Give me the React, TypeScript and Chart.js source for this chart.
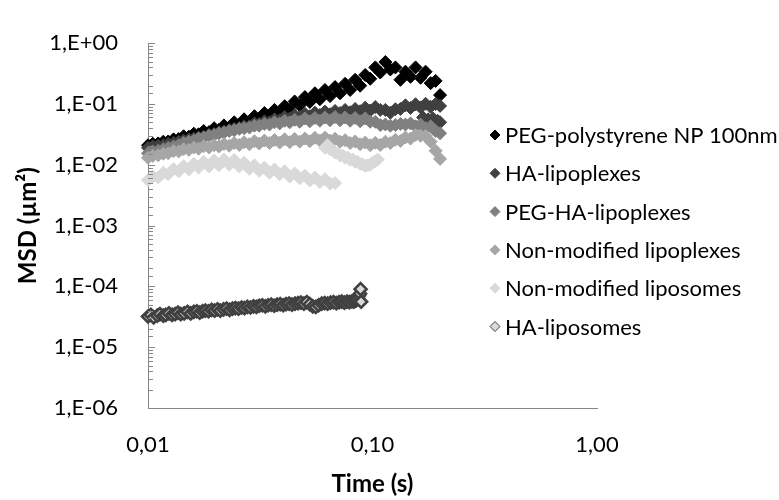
import { useEffect, useRef } from 'react';
import { Chart, registerables } from 'chart.js';

Chart.register(...registerables);

// ---------- data ----------
const SERIES_NAMES = [
  'PEG-polystyrene NP 100nm',
  'HA-lipoplexes',
  'PEG-HA-lipoplexes',
  'Non-modified lipoplexes',
  'Non-modified liposomes',
  'HA-liposomes',
];

// time lags (s) shared by the dense series
const T = [
  0.0100, 0.0105, 0.0111, 0.0117, 0.0123, 0.0130, 0.0137, 0.0144, 0.0152, 0.0160,
  0.0168, 0.0177, 0.0187, 0.0197, 0.0207, 0.0218, 0.0230, 0.0242, 0.0255, 0.0268,
  0.0283, 0.0298, 0.0313, 0.0330, 0.0348, 0.0366, 0.0386, 0.0406, 0.0428, 0.0450,
  0.0474, 0.0500, 0.0526, 0.0554, 0.0583, 0.0614, 0.0647, 0.0681, 0.0717, 0.0755,
  0.0795, 0.0837, 0.0881, 0.0928, 0.0977, 0.1029, 0.1083, 0.1141, 0.1201, 0.1265,
  0.1332, 0.1402, 0.1477, 0.1555, 0.1637, 0.1724, 0.1815, 0.1911, 0.2000,
];

const PEG_PS = [
  0.0210, 0.0222, 0.0225, 0.0240, 0.0242, 0.0262, 0.0265, 0.0295, 0.0290, 0.0325,
  0.0318, 0.0360, 0.0345, 0.0400, 0.0375, 0.0445, 0.0415, 0.0500, 0.0455, 0.0560,
  0.0505, 0.0630, 0.0560, 0.0710, 0.0625, 0.0800, 0.0700, 0.0920, 0.0800, 0.1100,
  0.0950, 0.1300, 0.1080, 0.1500, 0.1200, 0.1700, 0.1350, 0.1900, 0.1500, 0.2150,
  0.1700, 0.2500, 0.2000, 0.3000, 0.2600, 0.4000, 0.3300, 0.4900, 0.3700, 0.4000,
  0.2500, 0.3400, 0.2800, 0.4000, 0.2700, 0.3400, 0.2200, 0.2400, 0.1400,
];

const HA_LIPOPLEX = [
  0.019, 0.020, 0.0205, 0.021, 0.022, 0.023, 0.024, 0.025, 0.026, 0.027,
  0.028, 0.029, 0.031, 0.032, 0.034, 0.035, 0.037, 0.039, 0.040, 0.043,
  0.043, 0.048, 0.047, 0.052, 0.050, 0.056, 0.054, 0.061, 0.058, 0.065,
  0.061, 0.069, 0.063, 0.072, 0.066, 0.075, 0.068, 0.077, 0.071, 0.080,
  0.073, 0.083, 0.076, 0.087, 0.078, 0.089, 0.080, 0.080, 0.072, 0.082,
  0.083, 0.095, 0.086, 0.099, 0.088, 0.101, 0.090, 0.100, 0.093,
];
const HA_LIPOPLEX_TAIL_T = [0.1680, 0.1770, 0.1860, 0.1950, 0.2000];
const HA_LIPOPLEX_TAIL = [0.060, 0.056, 0.058, 0.053, 0.050];

const PEG_HA_LIPOPLEX = [
  0.0155, 0.0165, 0.017, 0.018, 0.019, 0.020, 0.021, 0.023, 0.024, 0.025,
  0.027, 0.028, 0.030, 0.031, 0.033, 0.034, 0.036, 0.037, 0.039, 0.040,
  0.041, 0.044, 0.044, 0.047, 0.046, 0.050, 0.048, 0.053, 0.050, 0.055,
  0.051, 0.058, 0.052, 0.059, 0.053, 0.060, 0.054, 0.061, 0.054, 0.060,
  0.053, 0.059, 0.052, 0.058, 0.051, 0.051, 0.045, 0.046, 0.044, 0.045,
  0.047, 0.046, 0.048, 0.043, 0.046, 0.040, 0.043, 0.036, 0.033,
];

const NONMOD_LIPOPLEX = [
  0.0130, 0.0140, 0.0143, 0.0152, 0.0155, 0.0168, 0.0166, 0.0180, 0.0176, 0.0192,
  0.0184, 0.0202, 0.0193, 0.0210, 0.0200, 0.0220, 0.0206, 0.0228, 0.0212, 0.0236,
  0.0218, 0.0244, 0.0224, 0.0250, 0.0228, 0.0256, 0.0232, 0.0262, 0.0236, 0.0266,
  0.0240, 0.0272, 0.0244, 0.0278, 0.0250, 0.0280, 0.0250, 0.0268, 0.0240, 0.0254,
  0.0228, 0.0242, 0.0218, 0.0232, 0.0210, 0.0230, 0.0212, 0.0240, 0.0228, 0.0258,
  0.0246, 0.0282, 0.0270, 0.0310, 0.0300, 0.0300, 0.0240, 0.0170, 0.0125,
];

// non-modified liposomes: first measurement run (on T, up to 0.068 s)
const NONMOD_LIPOSOME_A = [
  0.0056, 0.0064, 0.0062, 0.0074, 0.0070, 0.0085, 0.0078, 0.0095, 0.0084, 0.0104,
  0.0090, 0.0112, 0.0094, 0.0118, 0.0098, 0.0122, 0.0100, 0.0120, 0.0094, 0.0108,
  0.0086, 0.0098, 0.0080, 0.0090, 0.0074, 0.0084, 0.0070, 0.0078, 0.0064, 0.0072,
  0.0060, 0.0066, 0.0055, 0.0062, 0.0052, 0.0058, 0.0049, 0.0050,
];
// second run
const NONMOD_LIPOSOME_B_T = [
  0.0614, 0.0630, 0.0647, 0.0664, 0.0681, 0.0699, 0.0717, 0.0736, 0.0755, 0.0775,
  0.0795, 0.0816, 0.0837, 0.0859, 0.0881, 0.0904, 0.0928, 0.0952, 0.0977, 0.1003,
  0.1029, 0.1055,
];
const NONMOD_LIPOSOME_B = [
  0.019, 0.021, 0.018, 0.0175, 0.016, 0.0155, 0.0142, 0.0142, 0.0130, 0.0132,
  0.0120, 0.0122, 0.0112, 0.0112, 0.0104, 0.0102, 0.0096, 0.0098, 0.0100, 0.0110,
  0.0114, 0.0122,
];

const HA_LIPOSOME_T = [
  0.0100, 0.0103, 0.0106, 0.0110, 0.0113, 0.0117, 0.0120, 0.0124, 0.0128, 0.0132,
  0.0136, 0.0140, 0.0145, 0.0150, 0.0155, 0.0160, 0.0165, 0.0170, 0.0175, 0.0180,
  0.0186, 0.0192, 0.0198, 0.0204, 0.0210, 0.0217, 0.0224, 0.0231, 0.0238, 0.0245,
  0.0253, 0.0261, 0.0269, 0.0277, 0.0286, 0.0295, 0.0304, 0.0313, 0.0323, 0.0333,
  0.0343, 0.0354, 0.0365, 0.0376, 0.0388, 0.0400, 0.0412, 0.0425, 0.0438, 0.0452,
  0.0466, 0.0480, 0.0495, 0.0510, 0.0526, 0.0542, 0.0559, 0.0576, 0.0594, 0.0612,
  0.0631, 0.0650, 0.0670, 0.0690, 0.0710, 0.0730, 0.0750, 0.0770, 0.0790, 0.0810,
  0.0825, 0.0840, 0.0850, 0.0860, 0.0870, 0.0880, 0.0885, 0.0890,
];
const HA_LIPOSOME = [
  3.2e-5, 3.4e-5, 3.1e-5, 3.3e-5, 3.5e-5, 3.3e-5, 3.4e-5, 3.6e-5, 3.4e-5, 3.5e-5,
  3.7e-5, 3.5e-5, 3.6e-5, 3.8e-5, 3.6e-5, 3.8e-5, 3.9e-5, 3.7e-5, 3.9e-5, 4.0e-5,
  3.9e-5, 4.1e-5, 4.0e-5, 4.2e-5, 4.0e-5, 4.2e-5, 4.3e-5, 4.1e-5, 4.3e-5, 4.4e-5,
  4.3e-5, 4.5e-5, 4.4e-5, 4.6e-5, 4.5e-5, 4.7e-5, 4.6e-5, 4.8e-5, 4.9e-5, 4.7e-5,
  4.9e-5, 5.0e-5, 4.8e-5, 5.0e-5, 5.1e-5, 4.9e-5, 5.1e-5, 5.2e-5, 5.0e-5, 5.2e-5,
  5.3e-5, 5.4e-5, 5.2e-5, 5.5e-5, 5.1e-5, 4.7e-5, 4.6e-5, 4.9e-5, 5.2e-5, 5.3e-5,
  5.2e-5, 5.4e-5, 5.5e-5, 5.3e-5, 5.5e-5, 5.6e-5, 5.4e-5, 5.6e-5, 5.5e-5, 5.7e-5,
  5.6e-5, 5.8e-5, 6.0e-5, 6.4e-5, 7.0e-5, 7.6e-5, 9.0e-5, 5.6e-5,
];

const X_MIN = 0.01;
const X_MAX = 1;
const Y_MIN = 1e-6;
const Y_MAX = 1;

// ---------- helpers ----------
const FONT = 'Lato, "Open Sans", sans-serif';
const AXIS_COLOR = '#868686';

const pairs = (xs: number[], ys: number[]) => ys.map((y, i) => ({ x: xs[i], y }));
const isPow10 = (v: number) => Math.abs(Math.log10(v) - Math.round(Math.log10(v))) < 1e-9;
const fmtY = (v: number) => {
  const e = Math.round(Math.log10(v));
  const s = e >= 0 ? '+' : '-';
  const a = Math.abs(e);
  return '1,E' + s + (a < 10 ? '0' : '') + a;
};
const fmtX = (v: number) => v.toFixed(2).replace('.', ',');

export default function App() {
  const ref = useRef<HTMLCanvasElement | null>(null);

  useEffect(() => {
    if (!ref.current) return;

    const styles = [
      { bg: '#000000', bd: '#000000', bw: 1, r: 6.5 },
      { bg: '#404040', bd: '#404040', bw: 1, r: 6.5 },
      { bg: '#808080', bd: '#808080', bw: 1, r: 6.5 },
      { bg: '#a6a6a6', bd: '#a6a6a6', bw: 1, r: 6.5 },
      { bg: '#d9d9d9', bd: '#d9d9d9', bw: 1, r: 6.5 },
      { bg: '#d9d9d9', bd: '#404040', bw: 2.6, r: 6 },
    ];

    const seriesData = [
      pairs(T, PEG_PS),
      pairs(T, HA_LIPOPLEX).concat(pairs(HA_LIPOPLEX_TAIL_T, HA_LIPOPLEX_TAIL)),
      pairs(T, PEG_HA_LIPOPLEX),
      pairs(T, NONMOD_LIPOPLEX),
      pairs(T, NONMOD_LIPOSOME_A).concat(pairs(NONMOD_LIPOSOME_B_T, NONMOD_LIPOSOME_B)),
      pairs(HA_LIPOSOME_T, HA_LIPOSOME),
    ];

    const datasets = SERIES_NAMES.map((label, i) => ({
      label,
      data: seriesData[i],
      backgroundColor: styles[i].bg,
      borderColor: styles[i].bd,
      borderWidth: styles[i].bw,
      pointStyle: 'rectRot' as const,
      pointRadius: styles[i].r,
      pointHoverRadius: styles[i].r,
      showLine: false,
      clip: false as const,
      order: SERIES_NAMES.length - i,
    }));

    const LEGEND_X = 495;
    const LEGEND_TOP = 135;
    const LEGEND_STEP = 38.3;

    const legendPlugin = {
      id: 'sideLegend',
      afterDraw(chart: any) {
        const c = chart.ctx as CanvasRenderingContext2D;
        c.save();
        c.font = `22px ${FONT}`;
        c.textBaseline = 'middle';
        c.textAlign = 'left';
        chart.data.datasets.forEach((ds: any, i: number) => {
          const y = LEGEND_TOP + i * LEGEND_STEP;
          const r = 5;
          c.beginPath();
          c.moveTo(LEGEND_X - r, y);
          c.lineTo(LEGEND_X, y - r);
          c.lineTo(LEGEND_X + r, y);
          c.lineTo(LEGEND_X, y + r);
          c.closePath();
          c.fillStyle = ds.backgroundColor;
          c.fill();
          c.lineWidth = 1;
          c.strokeStyle = ds.borderColor;
          c.stroke();
          c.fillStyle = '#000000';
          c.fillText(ds.label, LEGEND_X + 10, y + 1);
        });
        c.restore();
      },
    };

    const tickPlugin = {
      id: 'innerTicks',
      afterDatasetsDraw(chart: any) {
        const c = chart.ctx as CanvasRenderingContext2D;
        const ys = chart.scales.y;
        const left = chart.chartArea.left;
        c.save();
        c.strokeStyle = AXIS_COLOR;
        c.lineWidth = 1;
        ys.ticks.forEach((t: any) => {
          const p = Math.round(ys.getPixelForValue(t.value)) + 0.5;
          const len = isPow10(t.value) ? 7 : 5;
          c.beginPath();
          c.moveTo(left, p);
          c.lineTo(left + len, p);
          c.stroke();
        });
        c.restore();
      },
    };

    const chart = new Chart(ref.current, {
      type: 'scatter',
      data: { datasets: datasets as any },
      options: {
        animation: false,
        responsive: false,
        events: [],
        layout: { padding: { top: 21, right: 182, left: 0, bottom: 0 } },
        plugins: {
          legend: { display: false },
          tooltip: { enabled: false },
        },
        scales: {
          x: {
            type: 'logarithmic',
            min: X_MIN,
            max: X_MAX,
            position: 'bottom',
            grid: { display: false, drawTicks: false },
            border: { display: true, color: AXIS_COLOR, width: 1 },
            ticks: {
              autoSkip: false,
              maxRotation: 0,
              padding: 24,
              color: '#000000',
              font: { family: FONT, size: 22 },
              callback: (v: any) => (isPow10(Number(v)) ? fmtX(Number(v)) : ''),
            },
            title: {
              display: true,
              text: 'Time (s)',
              color: '#000000',
              font: { family: FONT, size: 24, weight: 'bold' },
              padding: { top: 0, bottom: 1 },
            },
            afterFit: (s: any) => {
              s.height = 92;
            },
          },
          y: {
            type: 'logarithmic',
            min: Y_MIN,
            max: Y_MAX,
            position: 'left',
            grid: { display: false, drawTicks: false },
            border: { display: true, color: AXIS_COLOR, width: 1 },
            ticks: {
              autoSkip: false,
              padding: 30,
              color: '#000000',
              font: { family: FONT, size: 22 },
              callback: (v: any) => (isPow10(Number(v)) ? fmtY(Number(v)) : ''),
            },
            title: {
              display: true,
              text: 'MSD (µm²)',
              color: '#000000',
              font: { family: FONT, size: 24, weight: 'bold' },
              padding: { top: 14, bottom: 0 },
            },
            afterFit: (s: any) => {
              s.width = 148;
            },
          },
        },
      },
      plugins: [tickPlugin, legendPlugin],
    });

    return () => chart.destroy();
  }, []);

  return (
    <div style={{ position: 'absolute', left: 0, top: 0, width: 779, height: 500, background: '#ffffff' }}>
      <canvas ref={ref} width={779} height={500} style={{ width: 779, height: 500, display: 'block' }} />
    </div>
  );
}
